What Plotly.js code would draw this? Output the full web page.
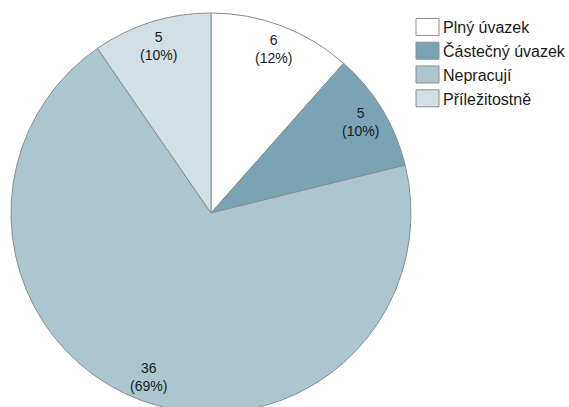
<!DOCTYPE html>
<html>
<head>
<meta charset="utf-8">
<script src="https://cdn.plot.ly/plotly-3.0.1.min.js"></script>
<style>
  html, body { margin: 0; padding: 0; background: #fff; overflow: hidden; }
  #chart { width: 590px; height: 420px; }
</style>
</head>
<body>
<div id="chart"></div>
<script>
// Employment status counts
const categories = ['Plný úvazek', 'Částečný úvazek', 'Nepracují', 'Příležitostně'];
const counts = [6, 5, 36, 5];
const sliceColors = ['#ffffff', '#7aa3b3', '#abc6cf', '#d2dfe5'];

// Figure geometry (pixels); the canvas is a little larger than the visible
// window so the legend never triggers automatic margin growth.
const W = 590, H = 420;
const M = { l: 0, r: 0, t: 13, b: 7 };
const CX = 211, R = 200;            // pie centre x and radius
const LABEL_R = 0.875;              // label distance as a fraction of the radius
const FONT = 'Liberation Sans';

const plotW = W - M.l - M.r;
const plotH = H - M.t - M.b;
const CY = M.t + plotH / 2;

const total = counts.reduce((a, b) => a + b, 0);

// Value labels placed along each slice's middle angle (clockwise from 12 o'clock)
const annotations = [];
let acc = 0;
counts.forEach((v) => {
  const mid = (acc + v / 2) / total * 2 * Math.PI;
  acc += v;
  const px = CX + LABEL_R * R * Math.sin(mid);
  const py = CY - LABEL_R * R * Math.cos(mid);
  annotations.push({
    xref: 'paper', yref: 'paper',
    x: (px - M.l) / plotW,
    y: 1 - (py - M.t) / plotH,
    xanchor: 'center', yanchor: 'middle',
    showarrow: false,
    text: v + '<br>(' + Math.round(v / total * 100) + '%)',
    font: { family: FONT, size: 14, color: '#1a1a1a' }
  });
});

const trace = {
  type: 'pie',
  labels: categories,
  values: counts,
  sort: false,
  direction: 'clockwise',
  rotation: 0,
  textinfo: 'none',
  hoverinfo: 'label+value+percent',
  marker: { colors: sliceColors, line: { color: '#8c8c8c', width: 1 } },
  domain: { x: [(CX - R - M.l) / plotW, (CX + R - M.l) / plotW], y: [0, 1] }
};

const layout = {
  width: W, height: H,
  margin: M,
  paper_bgcolor: '#ffffff',
  plot_bgcolor: '#ffffff',
  font: { family: FONT, color: '#1a1a1a' },
  showlegend: true,
  legend: {
    x: (403 - M.l) / plotW, y: 1 - (10 - M.t) / plotH,
    xanchor: 'left', yanchor: 'top',
    bgcolor: 'rgba(0,0,0,0)',
    font: { family: FONT, size: 16, color: '#1a1a1a' },
    traceorder: 'normal'
  },
  annotations: annotations
};

Plotly.newPlot('chart', [trace], layout, { displayModeBar: false, staticPlot: true }).then(() => {
  // wider rectangular legend swatches
  document.querySelectorAll('#chart .legendpoints path').forEach((p) => {
    p.setAttribute('d', 'M-7,-8.5H16V8.5H-7Z');
  });
});
</script>
</body>
</html>
